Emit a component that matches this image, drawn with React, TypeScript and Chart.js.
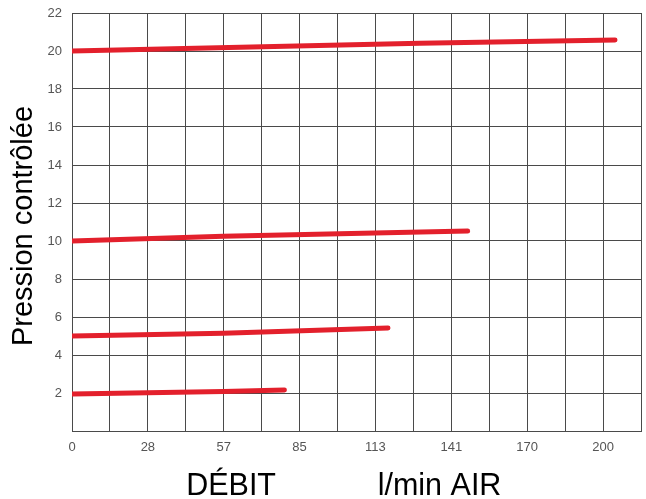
import React, { useEffect, useRef } from "react";
import { Chart, registerables } from "chart.js";

Chart.register(...registerables);

const xTickLabels = ["0", "28", "57", "85", "113", "141", "170", "200"];
const yTickValues = [0, 2, 4, 6, 8, 10, 12, 14, 16, 18, 20, 22];

const series20 = [
  { x: 0, y: 20.0 },
  { x: 131, y: 20.41 },
  { x: 204.5, y: 20.58 },
];
const series10 = [
  { x: 0, y: 10.0 },
  { x: 57, y: 10.25 },
  { x: 149, y: 10.52 },
];
const series5 = [
  { x: 0, y: 5.0 },
  { x: 57, y: 5.15 },
  { x: 119, y: 5.42 },
];
const series2 = [
  { x: 0, y: 1.95 },
  { x: 57, y: 2.08 },
  { x: 80, y: 2.16 },
];

const X_STEP = 200 / 14;
const X_MAX = X_STEP * 15;
const FONT = "'Liberation Sans', Arial, sans-serif";
const RED = "#e3202c";
const GRID = "#4a4a4a";
const CLEAR = "rgba(0,0,0,0)";

export default function App() {
  const ref = useRef<HTMLCanvasElement | null>(null);

  useEffect(() => {
    if (!ref.current) return;
    const mk = (data: { x: number; y: number }[]) => ({
      data,
      borderColor: RED,
      backgroundColor: RED,
      borderWidth: 5,
      borderCapStyle: "round" as const,
      borderJoinStyle: "round" as const,
      pointRadius: 0,
      tension: 0,
      fill: false,
    });
    const chart = new Chart(ref.current, {
      type: "line",
      data: {
        datasets: [mk(series20), mk(series10), mk(series5), mk(series2)],
      },
      options: {
        animation: false,
        responsive: true,
        maintainAspectRatio: false,
        layout: { padding: { left: 0, right: 5, top: 13, bottom: 0 } },
        plugins: { legend: { display: false }, tooltip: { enabled: false } },
        scales: {
          x: {
            type: "linear",
            min: 0,
            max: X_MAX,
            afterBuildTicks: (scale: any) => {
              const t = [];
              for (let i = 0; i <= 15; i++) t.push({ value: i * X_STEP });
              scale.ticks = t;
            },
            afterFit: (scale: any) => {
              scale.height = 68;
            },
            ticks: {
              autoSkip: false,
              maxRotation: 0,
              padding: 0,
              color: "#555",
              font: { family: FONT, size: 13 },
              callback: (_v: any, i: number) =>
                i % 2 === 0 ? xTickLabels[i / 2] ?? "" : "",
            },
            grid: {
              color: GRID,
              lineWidth: 1,
              drawTicks: true,
              tickLength: 9,
              tickColor: CLEAR,
            },
            border: { color: GRID, width: 1 },
            title: {
              display: true,
              text: "DÉBIT            l/min AIR   ",
              color: "#000",
              font: { family: FONT, size: 30.5, lineHeight: 0.8 },
              padding: { top: 0, bottom: 0 },
            },
          },
          y: {
            type: "linear",
            min: 0,
            max: 22,
            afterBuildTicks: (scale: any) => {
              scale.ticks = yTickValues.map((v) => ({ value: v }));
            },
            afterFit: (scale: any) => {
              scale.width = 72;
            },
            ticks: {
              padding: 0,
              color: "#555",
              font: { family: FONT, size: 13 },
              callback: (v: any) => (v === 0 ? "" : String(v)),
            },
            grid: {
              color: GRID,
              lineWidth: 1,
              drawTicks: true,
              tickLength: 10,
              tickColor: CLEAR,
            },
            border: { color: GRID, width: 1 },
            title: {
              display: true,
              text: "Pression contrôlée ",
              color: "#000",
              font: { family: FONT, size: 29, lineHeight: 1.2 },
              padding: { top: 7, bottom: 0 },
            },
          },
        },
      },
    });
    return () => chart.destroy();
  }, []);

  return (
    <div
      style={{
        position: "absolute",
        left: 0,
        top: 0,
        width: 646,
        height: 499,
        background: "#fff",
      }}
    >
      <canvas ref={ref} />
    </div>
  );
}
